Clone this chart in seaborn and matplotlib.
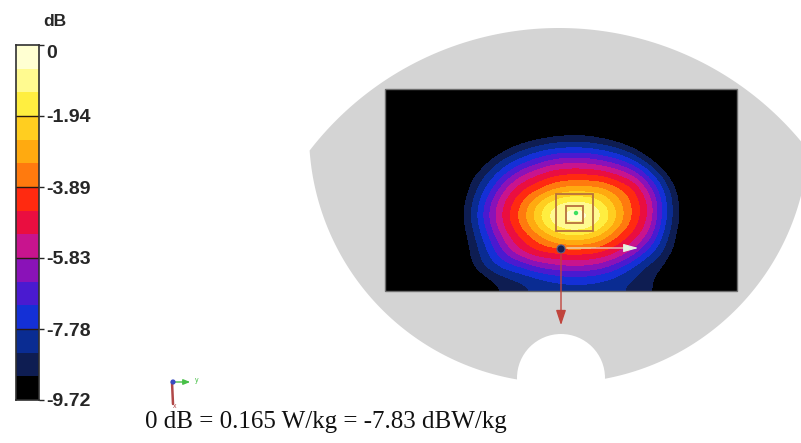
import numpy as np
import matplotlib
matplotlib.use("Agg")
import matplotlib.pyplot as plt
from matplotlib.colors import ListedColormap, BoundaryNorm
from matplotlib.patches import Polygon, Rectangle, Circle
import seaborn as sns

sns.set_style("white")
plt.rcParams["font.family"] = ["Liberation Sans", "DejaVu Sans"]

# colour scale: 15 bands of 0.648 dB, lowest band first
band_colors = ["#000000", "#0E1D52", "#0A2C92", "#1430D6", "#4A1AD0",
               "#8A12B8", "#C8148E", "#EA0E40", "#FF2A10", "#FF7A0E",
               "#FFAA10", "#FFCE20", "#FFEE40", "#FFFA90", "#FFFFD2"]
tick_values = [0, -1.94, -3.89, -5.83, -7.78, -9.72]
tick_labels = ["0", "-1.94", "-3.89", "-5.83", "-7.78", "-9.72"]
db_min = -9.72

# area scan in dB (relative to the 0 dB peak), rows from top to bottom
sar_row_00 = [-11, -11, -11, -11, -11, -11, -11, -11, -11, -11, -11, -11, -11, -11, -11, -11, -11, -11, -11, -11, -11, -11]
sar_row_01 = [-11, -11, -11, -11, -11, -11, -11, -11, -11, -11, -11, -11, -11, -11, -11, -11, -11, -11, -11, -11, -11, -11]
sar_row_02 = [-11, -11, -11, -11, -11, -11, -11, -11, -10.5, -10.15, -9.87, -9.73, -9.74, -9.96, -10.3, -10.6, -11, -11, -11, -11, -11, -11]
sar_row_03 = [-11, -11, -11, -11, -11, -11, -10.5, -9.6, -9.05, -8.7, -8.45, -8.34, -8.36, -8.59, -8.97, -9.54, -10.2, -10.8, -11, -11, -11, -11]
sar_row_04 = [-11, -11, -11, -11, -11, -10.3, -9.1, -8.4, -7.75, -7.05, -6.47, -6.26, -6.29, -6.63, -7.1, -7.9, -9.06, -10.0, -10.6, -11, -11, -11]
sar_row_05 = [-11, -11, -11, -11, -10.2, -9.15, -8.3, -7.1, -5.9, -5.18, -4.65, -4.48, -4.49, -4.6, -5.1, -5.8, -7.3, -8.9, -10.2, -11, -11, -11]
sar_row_06 = [-11, -11, -11, -10.9, -9.96, -8.76, -7.34, -5.67, -4.52, -3.96, -3.2, -2.82, -2.88, -2.9, -3.6, -4.2, -5.9, -7.9, -9.5, -10.8, -11, -11]
sar_row_07 = [-11, -11, -11, -10.8, -9.63, -8.33, -6.5, -4.9, -3.76, -2.36, -1.14, -0.55, -0.6, -1.33, -2.74, -3.95, -5.05, -7.6, -9.3, -10.5, -11, -11]
sar_row_08 = [-11, -11, -11, -10.8, -9.6, -8.28, -6.42, -4.81, -3.6, -2.15, -0.76, -0.25, -0.3, -1.07, -2.55, -4.05, -5.25, -7.68, -9.27, -10.5, -11, -11]
sar_row_09 = [-11, -11, -11, -10.9, -9.85, -8.64, -7.13, -5.48, -4.38, -3.54, -2.48, -1.94, -2.04, -2.72, -3.9, -4.7, -6.0, -8.18, -9.53, -10.6, -11, -11]
sar_row_10 = [-11, -11, -11, -11, -9.9, -8.9, -7.7, -6.3, -5.2, -4.5, -4.4, -4.3, -4.32, -4.47, -5.04, -6.0, -7.5, -8.6, -9.6, -10.6, -11, -11]
sar_row_11 = [-11, -11, -11, -11, -10.2, -9.0, -8.2, -7.6, -7.3, -6.6, -6.2, -5.97, -6.0, -6.32, -7.04, -7.96, -8.81, -9.1, -10.7, -11, -11, -11]
sar_row_12 = [-11, -11, -11, -11, -11, -10.3, -9.4, -8.95, -8.6, -8.35, -8.1, -8.0, -8.0, -8.1, -8.3, -8.6, -8.9, -9.6, -10.6, -11, -11, -11]

peak_text = "0 dB = 0.165 W/kg = -7.83 dBW/kg"

field = np.array([sar_row_00, sar_row_01, sar_row_02, sar_row_03, sar_row_04,
                  sar_row_05, sar_row_06, sar_row_07, sar_row_08, sar_row_09,
                  sar_row_10, sar_row_11, sar_row_12], dtype=float)

cmap = ListedColormap(band_colors)
cmap.set_under(band_colors[0])
cmap.set_over(band_colors[-1])
bounds = np.linspace(db_min, 0, len(band_colors) + 1)
norm = BoundaryNorm(bounds, cmap.N)

fig = plt.figure(figsize=(8.01, 4.43), dpi=100)
ax = fig.add_axes([0, 0, 1, 1])

# phantom outline: upper arc (circle A) meets lower arc (circle B), notch at the bottom
cx = 559
ya, ra = 343, 315
yb, rb = 133, 250
y_cross = (ra**2 - rb**2 - ya**2 + yb**2) / (2 * (yb - ya))
x_half = np.sqrt(rb**2 - (y_cross - yb)**2)
ta = np.degrees(np.arctan2(ya - y_cross, x_half))
tb = np.degrees(np.arcsin((y_cross - yb) / rb))
t = np.radians(np.linspace(180 - ta, ta, 150))
u = np.radians(np.linspace(tb, 180 - tb, 200))
px = np.concatenate([cx + ra * np.cos(t), cx + rb * np.cos(u)])
py = np.concatenate([ya - ra * np.sin(t), np.minimum(yb + rb * np.sin(u), 383)])
ax.add_patch(Polygon(np.column_stack([px, py]), closed=True, fc="#D4D4D4", ec="none", zorder=1))
ax.add_patch(Circle((561, 378), 44, fc="white", ec="none", zorder=1.5))

# measured area
scan_box = (385, 737, 291, 89)
ax.imshow(field, extent=scan_box, cmap=cmap, norm=norm, interpolation="bicubic",
          interpolation_stage="data", aspect="auto", zorder=2)
ax.add_patch(Rectangle((385, 89), 352, 202, fill=False, ec="#6E6E6E", lw=1, zorder=3))

# zoom scan cubes and peak
ax.add_patch(Rectangle((556, 194), 37, 37, fill=False, ec="#B8703C", lw=1.3, zorder=4))
ax.add_patch(Rectangle((566, 206), 17, 17, fill=False, ec="#B8703C", lw=1.3, zorder=4))
ax.add_patch(Circle((576, 213), 2.2, fc="#3CE060", ec="none", zorder=5))

# probe reference and axes arrows
ax.annotate("", xy=(641, 248), xytext=(564, 248),
            arrowprops=dict(arrowstyle="-|>,head_length=0.9,head_width=0.25",
                            color="#E4F2E0", lw=0.8, mutation_scale=10), zorder=5)
ax.annotate("", xy=(561, 328), xytext=(561, 252),
            arrowprops=dict(arrowstyle="-|>,head_length=0.9,head_width=0.3",
                            color="#C0443C", lw=1, mutation_scale=10), zorder=5)
ax.add_patch(Circle((561, 249), 4, fc="#1A2250", ec="#56608A", lw=0.8, zorder=6))

# small coordinate icon
ax.plot([172, 173], [382, 404], color="#B04848", lw=1.8, zorder=5)
ax.annotate("", xy=(193, 382), xytext=(172, 382),
            arrowprops=dict(arrowstyle="-|>,head_length=0.5,head_width=0.2",
                            color="#48C048", lw=1, mutation_scale=8), zorder=5)
ax.add_patch(Circle((173, 382), 2.6, fc="#3A4CC0", ec="none", zorder=6))
ax.text(197, 381, "y", color="#48C048", fontsize=5, ha="center", va="center")
ax.text(175, 407, "x", color="#B04848", fontsize=5, ha="center", va="center")

ax.text(145, 428, peak_text, family=["Liberation Serif", "DejaVu Serif"],
        fontsize=18, ha="left", va="baseline", color="#111111")
ax.text(55, 21, "dB", fontsize=12.5, fontweight="bold", ha="center", va="center")

ax.set_xlim(0, 801)
ax.set_ylim(443, 0)
ax.axis("off")

# colour legend as a one-column heatmap
n_bands = len(band_colors)
band_mids = (bounds[:-1] + bounds[1:]) / 2
cax = fig.add_axes([16 / 801, 43 / 443, 23 / 801, 355 / 443])
sns.heatmap(band_mids[::-1].reshape(-1, 1), ax=cax, cmap=cmap, norm=norm,
            cbar=False, xticklabels=False, yticklabels=False)
rows = [-v / -db_min * n_bands for v in tick_values]
for r in rows[1:-1]:
    cax.axhline(r, color="#2A1A10", lw=1)
cax.yaxis.tick_right()
cax.set_yticks(rows)
cax.set_yticklabels(tick_labels, fontsize=14, fontweight="bold")
cax.tick_params(axis="y", right=True, left=False, direction="out", length=3.5,
                width=1, pad=2, labelright=True, labelleft=False)
cax.get_yticklabels()[0].set_va("top")
for sp in cax.spines.values():
    sp.set_visible(True)
    sp.set_color("#303030")
    sp.set_linewidth(1.2)

fig.savefig("out.png", dpi=100)
